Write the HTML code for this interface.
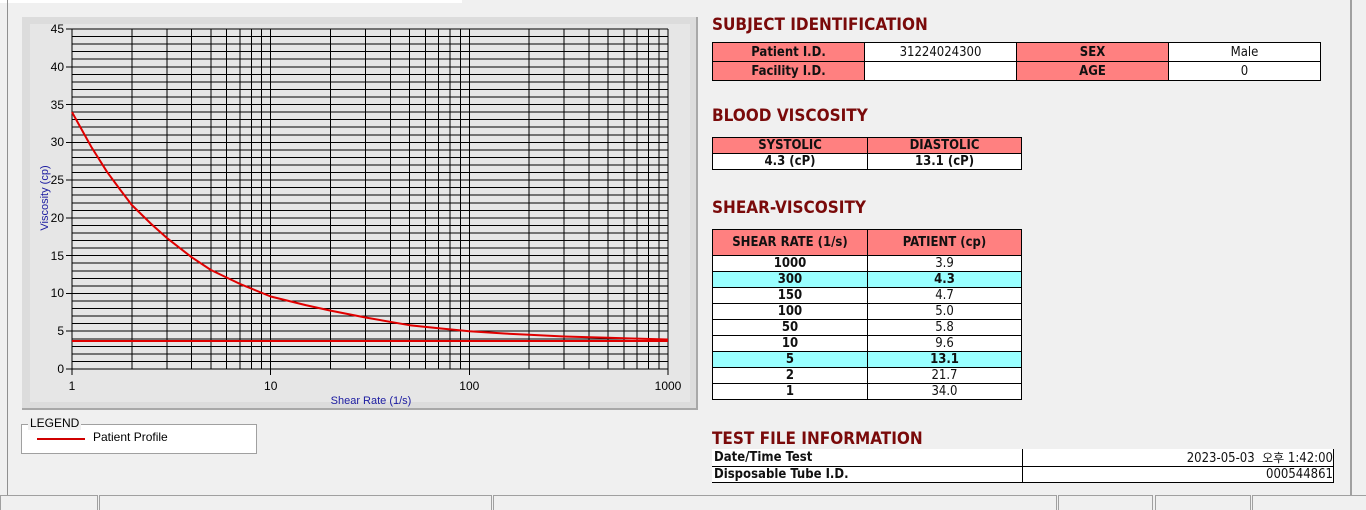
<!DOCTYPE html>
<html><head><meta charset="utf-8"><style>
body{margin:0;width:1366px;height:508px;background:#f0f0f0;position:relative;overflow:hidden;font-family:"Liberation Sans",sans-serif}
.a{position:absolute}
.h{position:absolute;left:712px;font:bold 17px "DejaVu Sans Condensed","Liberation Sans",sans-serif;color:#7a0a0a;letter-spacing:0px}
table{position:absolute;border-collapse:collapse;font-family:"DejaVu Sans Condensed","Liberation Sans",sans-serif;font-size:13px;color:#111}
td{padding:0;text-align:center;border:1px solid #000;white-space:nowrap;overflow:hidden}
.p{background:#ff8080;font-weight:bold}
.w{background:#fff}
.c{background:#99ffff;font-weight:bold}
.b{font-weight:bold}
.sb{position:absolute;top:495px;height:14px;border:1px solid #a0a0a0;border-bottom:none;background:#f0f0f0}
</style></head><body>
<div class="a" style="left:0;top:0;width:462px;height:3px;background:#fff"></div>
<div class="a" style="left:7px;top:0;width:1px;height:495px;background:#909090"></div>
<div class="a" style="left:1350px;top:0;width:2px;height:495px;background:#a0a0a0"></div>
<div class="a" style="left:22px;top:17px;width:674px;height:391px;background:#dcdcdc;border-right:2px solid #a8a8a8;border-bottom:2px solid #a8a8a8"></div>
<svg class="a" style="left:0;top:0" width="700" height="410">
<rect x="30" y="24" width="660" height="378" fill="#e6e6e6"/>
<g stroke="#000" stroke-width="1" fill="none" shape-rendering="crispEdges">
<path d="M72 29H668M72 36.6H668M72 44.1H668M72 51.7H668M72 59.2H668M72 66.8H668M72 74.3H668M72 81.9H668M72 89.4H668M72 97H668M72 104.6H668M72 112.1H668M72 119.7H668M72 127.2H668M72 134.8H668M72 142.3H668M72 149.9H668M72 157.4H668M72 165H668M72 172.6H668M72 180.1H668M72 187.7H668M72 195.2H668M72 202.8H668M72 210.3H668M72 217.9H668M72 225.4H668M72 233H668M72 240.6H668M72 248.1H668M72 255.7H668M72 263.2H668M72 270.8H668M72 278.3H668M72 285.9H668M72 293.4H668M72 301H668M72 308.6H668M72 316.1H668M72 323.7H668M72 331.2H668M72 338.8H668M72 346.3H668M72 353.9H668M72 361.4H668M72 369H668"/>
<path d="M72 29V369M131.8 29V369M166.8 29V369M191.6 29V369M210.9 29V369M226.6 29V369M239.9 29V369M251.4 29V369M261.6 29V369M270.7 29V369M330.5 29V369M365.5 29V369M390.3 29V369M409.6 29V369M425.3 29V369M438.6 29V369M450.1 29V369M460.3 29V369M469.3 29V369M529.1 29V369M564.1 29V369M588.9 29V369M608.2 29V369M623.9 29V369M637.2 29V369M648.7 29V369M658.9 29V369M668 29V369"/>
<path d="M66 29H72M66 66.8H72M66 104.6H72M66 142.3H72M66 180.1H72M66 217.9H72M66 255.7H72M66 293.4H72M66 331.2H72M66 369H72M72 369V375M270.7 369V375M469.3 369V375M668 369V375"/>
</g>
<g font-family="Liberation Sans" font-size="12" fill="#000" text-anchor="end">
<text x="64" y="33">45</text><text x="64" y="71">40</text><text x="64" y="109">35</text><text x="64" y="146">30</text><text x="64" y="184">25</text><text x="64" y="222">20</text><text x="64" y="260">15</text><text x="64" y="297">10</text><text x="64" y="335">5</text><text x="64" y="373">0</text>
</g>
<g font-family="Liberation Sans" font-size="12" fill="#000" text-anchor="middle">
<text x="72" y="390">1</text><text x="270.7" y="390">10</text><text x="469.3" y="390">100</text><text x="668" y="390">1000</text>
</g>
<text x="371" y="404" font-family="Liberation Sans" font-size="11" fill="#1a1aa0" text-anchor="middle">Shear Rate (1/s)</text>
<text transform="translate(48,198) rotate(-90)" font-family="Liberation Sans" font-size="11" fill="#1a1aa0" text-anchor="middle">Viscosity (cp)</text>
<polyline fill="none" stroke="#e00000" stroke-width="2" stroke-linejoin="round" points="72,112.1 91.3,146.9 107,171.8 120.3,189.9 131.8,205 151.1,223.9 166.8,237.9 191.6,257.2 210.9,270 239.9,283.9 270.7,296.5 305.7,305.1 330.5,310.6 365.5,317.5 409.5,325.2 438.6,328.3 469.3,331.2 504.3,333.5 529.1,334.8 564.1,336.5 608.2,337.8 637.2,338.6 668,339.5"/>
<line x1="72" y1="341" x2="668" y2="341" stroke="#e00000" stroke-width="2"/>
</svg>
<div class="a" style="left:21px;top:424px;width:234px;height:28px;background:#fff;border:1px solid #a0a0a0"></div>
<div class="a" style="left:28px;top:416px;background:#f0f0f0;font-size:12px;padding:0 2px;line-height:14px">LEGEND</div>
<div class="a" style="left:37px;top:438px;width:48px;height:2px;background:#d00000"></div>
<div class="a" style="left:93px;top:430px;font-size:12px">Patient Profile</div>

<div class="h" style="top:15px">SUBJECT IDENTIFICATION</div>
<table style="left:712px;top:42px;width:609px">
<tr style="height:19px"><td class="p" style="width:151px">Patient I.D.</td><td class="w" style="width:151px">31224024300</td><td class="p" style="width:151px">SEX</td><td class="w">Male</td></tr>
<tr style="height:19px"><td class="p">Facility I.D.</td><td class="w"></td><td class="p">AGE</td><td class="w">0</td></tr>
</table>
<div class="h" style="top:106px">BLOOD VISCOSITY</div>
<table style="left:712px;top:137px;width:310px">
<tr style="height:16px"><td class="p" style="width:154px">SYSTOLIC</td><td class="p">DIASTOLIC</td></tr>
<tr style="height:15px"><td class="w b">4.3 (cP)</td><td class="w b">13.1 (cP)</td></tr>
</table>
<div class="h" style="top:198px">SHEAR-VISCOSITY</div>
<table style="left:712px;top:229px;width:310px">
<tr style="height:26px"><td class="p" style="width:154px">SHEAR RATE (1/s)</td><td class="p">PATIENT (cp)</td></tr>
<tr style="height:16px"><td class="w b">1000</td><td class="w">3.9</td></tr>
<tr style="height:16px"><td class="c">300</td><td class="c">4.3</td></tr>
<tr style="height:16px"><td class="w b">150</td><td class="w">4.7</td></tr>
<tr style="height:16px"><td class="w b">100</td><td class="w">5.0</td></tr>
<tr style="height:16px"><td class="w b">50</td><td class="w">5.8</td></tr>
<tr style="height:16px"><td class="w b">10</td><td class="w">9.6</td></tr>
<tr style="height:16px"><td class="c">5</td><td class="c">13.1</td></tr>
<tr style="height:16px"><td class="w b">2</td><td class="w">21.7</td></tr>
<tr style="height:16px"><td class="w b">1</td><td class="w">34.0</td></tr>
</table>
<div class="h" style="top:429px">TEST FILE INFORMATION</div>
<table style="left:712px;top:449px;width:622px">
<tr style="height:16px"><td class="w b" style="width:308px;text-align:left;padding-left:2px;border-left:none;border-top:none">Date/Time Test</td><td class="w" style="text-align:right;border-top:none">2023-05-03 &nbsp;<span style="font-family:'Noto Sans CJK KR',sans-serif;font-size:12px">오후</span> 1:42:00</td></tr>
<tr style="height:16px"><td class="w b" style="text-align:left;padding-left:2px;border-left:none">Disposable Tube I.D.</td><td class="w" style="text-align:right">000544861</td></tr>
</table>

<div class="sb" style="left:0;width:96px"></div>
<div class="sb" style="left:99px;width:391px"></div>
<div class="sb" style="left:493px;width:562px"></div>
<div class="sb" style="left:1058px;width:93px"></div>
<div class="sb" style="left:1155px;width:94px"></div>
<div class="sb" style="left:1252px;width:114px"></div>
</body></html>
